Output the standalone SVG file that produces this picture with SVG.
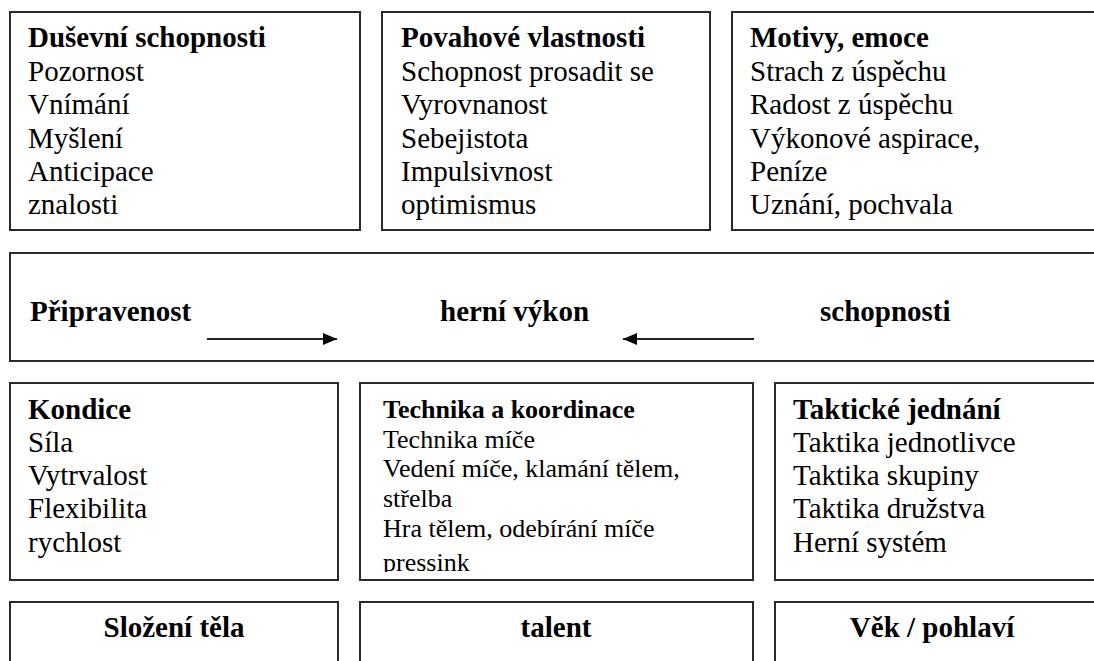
<svg xmlns="http://www.w3.org/2000/svg" width="1094" height="661" viewBox="0 0 1094 661" font-family="'Liberation Serif', 'DejaVu Serif', serif">
<style>
.box{fill:#fff;stroke:#2a2a2a;stroke-width:2}
text{font-family:'Liberation Serif','DejaVu Serif',serif;fill:#000}
.t{font-size:29px}
.h{font-size:29px;font-weight:bold}
.s{font-size:26px}
.sh{font-size:26px;font-weight:bold}
.c{text-anchor:middle}
.arrow{stroke:#222;stroke-width:2;fill:none}
</style>
<defs>
<marker id="ah" viewBox="0 0 14 12" refX="14" refY="6" markerWidth="14" markerHeight="12" markerUnits="userSpaceOnUse" orient="auto">
<path d="M0,0 L14,6 L0,12 z" fill="#000"/>
</marker>
<clipPath id="clip5"><rect x="361" y="384" width="391" height="188"/></clipPath>
</defs>
<rect width="1094" height="661" fill="#fff"/>

<g id="dusevni">
<rect class="box" x="10" y="12" width="350" height="218"/>
<text class="h" x="28" y="47">Duševní schopnosti</text>
<text class="t" x="28" y="81">Pozornost</text>
<text class="t" x="28" y="114">Vnímání</text>
<text class="t" x="28" y="148">Myšlení</text>
<text class="t" x="28" y="181">Anticipace</text>
<text class="t" x="28" y="214">znalosti</text>
</g>

<g id="povahove">
<rect class="box" x="382" y="12" width="328" height="218"/>
<text class="h" x="401" y="47">Povahové vlastnosti</text>
<text class="t" x="401" y="81">Schopnost prosadit se</text>
<text class="t" x="401" y="114">Vyrovnanost</text>
<text class="t" x="401" y="148">Sebejistota</text>
<text class="t" x="401" y="181">Impulsivnost</text>
<text class="t" x="401" y="214">optimismus</text>
</g>

<g id="motivy">
<path class="box" d="M1100,12 H732 V230 H1100"/>
<text class="h" x="750" y="47">Motivy, emoce</text>
<text class="t" x="750" y="81">Strach z úspěchu</text>
<text class="t" x="750" y="114">Radost z úspěchu</text>
<text class="t" x="750" y="148">Výkonové aspirace,</text>
<text class="t" x="750" y="181">Peníze</text>
<text class="t" x="750" y="214">Uznání, pochvala</text>
</g>

<g id="vykon">
<path class="box" d="M1100,253 H10 V361 H1100"/>
<text class="h" x="30" y="321">Připravenost</text>
<text class="h" x="440" y="321">herní výkon</text>
<text class="h" x="820" y="321">schopnosti</text>
</g>

<g id="connectors">
<line class="arrow" x1="207" y1="339" x2="337" y2="339" marker-end="url(#ah)"/>
<line class="arrow" x1="754" y1="339" x2="623" y2="339" marker-end="url(#ah)"/>
</g>

<g id="kondice">
<rect class="box" x="10" y="383" width="328" height="197"/>
<text class="h" x="28" y="419">Kondice</text>
<text class="t" x="28" y="452">Síla</text>
<text class="t" x="28" y="485">Vytrvalost</text>
<text class="t" x="28" y="518">Flexibilita</text>
<text class="t" x="28" y="552">rychlost</text>
</g>

<g id="technika">
<rect class="box" x="360" y="383" width="393" height="197"/>
<g clip-path="url(#clip5)">
<text class="sh" x="383" y="418">Technika a koordinace</text>
<text class="s" x="383" y="448">Technika míče</text>
<text class="s" x="383" y="477">Vedení míče, klamání tělem,</text>
<text class="s" x="383" y="507">střelba</text>
<text class="s" x="383" y="537">Hra tělem, odebírání míče</text>
<text class="s" x="383" y="571">pressink</text>
</g>
</g>

<g id="takticke">
<path class="box" d="M1100,383 H775 V580 H1100"/>
<text class="h" x="793" y="419">Taktické jednání</text>
<text class="t" x="793" y="452">Taktika jednotlivce</text>
<text class="t" x="793" y="485">Taktika skupiny</text>
<text class="t" x="793" y="518">Taktika družstva</text>
<text class="t" x="793" y="552">Herní systém</text>
</g>

<g id="slozeni">
<path class="box" d="M10,670 V602 H338 V670"/>
<text class="h c" x="174" y="637">Složení těla</text>
</g>

<g id="talent">
<path class="box" d="M360,670 V602 H753 V670"/>
<text class="h c" x="556" y="637">talent</text>
</g>

<g id="vek">
<path class="box" d="M775,670 V602 H1100"/>
<text class="h c" x="932" y="637">Věk / pohlaví</text>
</g>
</svg>
